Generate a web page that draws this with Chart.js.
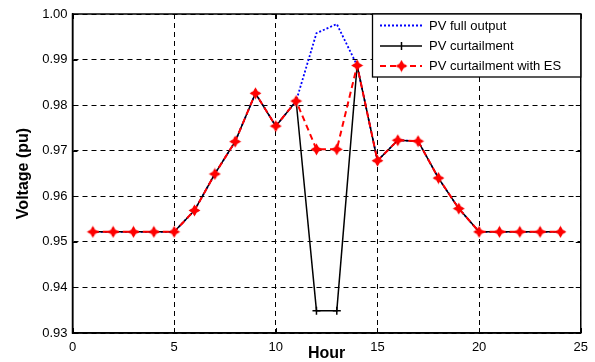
<!DOCTYPE html>
<html>
<head>
<meta charset="utf-8">
<script src="https://cdn.jsdelivr.net/npm/chart.js@4"></script>
<style>
  html, body { margin: 0; padding: 0; background: #fff; }
  #wrap { width: 595px; height: 362px; }
</style>
</head>
<body>
<div id="wrap"><canvas id="voltage" width="595" height="362"></canvas></div>
<script>
// hourly voltage profile (pu)
const hours = [1, 2, 3, 4, 5, 6, 7, 8, 9, 10, 11, 12, 13, 14, 15, 16, 17, 18, 19, 20, 21, 22, 23, 24]
const fullOutput = [0.9522, 0.9522, 0.9522, 0.9522, 0.9522, 0.9569, 0.9649, 0.9720, 0.9826, 0.9754, 0.9809, 0.9958,
    0.9978, 0.9887, 0.9678, 0.9723, 0.9721, 0.9640, 0.9573, 0.9522, 0.9522, 0.9522, 0.9522, 0.9522]
const curtailment = [0.9522, 0.9522, 0.9522, 0.9522, 0.9522, 0.9569, 0.9649, 0.9720, 0.9826, 0.9754, 0.9809, 0.9349,
    0.9349, 0.9887, 0.9678, 0.9723, 0.9721, 0.9640, 0.9573, 0.9522, 0.9522, 0.9522, 0.9522, 0.9522]
const curtailmentES = [0.9522, 0.9522, 0.9522, 0.9522, 0.9522, 0.9569, 0.9649, 0.9720, 0.9826, 0.9754, 0.9809, 0.9703,
    0.9703, 0.9887, 0.9678, 0.9723, 0.9721, 0.9640, 0.9573, 0.9522, 0.9522, 0.9522, 0.9522, 0.9522]
const seriesNames = ['PV full output', 'PV curtailment', 'PV curtailment with ES']
const xTicks = [0, 5, 10, 15, 20, 25]
const yTicks = [0.93, 0.94, 0.95, 0.96, 0.97, 0.98, 0.99, 1.00]

const toPoints = (vals) => hours.map((h, i) => ({ x: h, y: vals[i] }))

// red 4-point star marker
const starMarker = document.createElement('canvas')
starMarker.width = 13
starMarker.height = 13
let m = starMarker.getContext('2d')
m.fillStyle = '#ff0000'
m.beginPath()
const outer = 6, inner = 3.1
for (let k = 0; k < 8; k++) {
    const r = k % 2 === 0 ? outer : inner
    const a = k * Math.PI / 4 - Math.PI / 2
    const px = 6.5 + r * Math.cos(a), py = 6.5 + r * Math.sin(a)
    if (k === 0) m.moveTo(px, py)
    else m.lineTo(px, py)
}
m.closePath()
m.fill()

const font = 'Liberation Sans, Arial, Helvetica, sans-serif'

// matlab style frame, inward ticks and legend box
const matlabFrame = {
    id: 'matlabFrame',
    afterDraw(chart) {
        const c = chart.ctx
        const a = chart.chartArea
        const xs = chart.scales.x, ys = chart.scales.y
        c.save()
        c.strokeStyle = '#000'
        c.lineWidth = 1
        xTicks.forEach(t => {
            const px = Math.round(xs.getPixelForValue(t)) + 0.5
            c.beginPath()
            c.moveTo(px, a.bottom); c.lineTo(px, a.bottom - 5)
            c.moveTo(px, a.top); c.lineTo(px, a.top + 5)
            c.stroke()
        })
        yTicks.forEach(t => {
            const py = Math.round(ys.getPixelForValue(t)) + 0.5
            c.beginPath()
            c.moveTo(a.left, py); c.lineTo(a.left + 5, py)
            c.moveTo(a.right, py); c.lineTo(a.right - 5, py)
            c.stroke()
        })
        c.lineWidth = 1.5
        c.strokeRect(a.left, a.top, a.right - a.left, a.bottom - a.top)

        // legend
        const lx = 372.5, ly = a.top, lw = a.right - lx, lh = 63
        c.fillStyle = '#fff'
        c.fillRect(lx, ly, lw, lh)
        c.lineWidth = 1.3
        c.strokeRect(lx, ly, lw, lh)
        c.font = '13px ' + font
        c.textBaseline = 'middle'
        const rows = [25.5, 46, 66]
        chart.data.datasets.forEach((ds, i) => {
            const yy = rows[i]
            c.save()
            c.strokeStyle = ds.borderColor
            c.lineWidth = ds.borderWidth
            c.setLineDash(ds.borderDash || [])
            c.beginPath()
            c.moveTo(380, yy); c.lineTo(422, yy)
            c.stroke()
            c.restore()
            if (ds.pointStyle === 'cross') {
                c.save()
                c.strokeStyle = ds.borderColor
                c.lineWidth = 1.5
                c.beginPath()
                c.moveTo(401.5, yy - 4); c.lineTo(401.5, yy + 4)
                c.stroke()
                c.restore()
            } else if (ds.pointStyle instanceof HTMLCanvasElement) {
                c.drawImage(ds.pointStyle, 401.5 - 6.5, yy - 6.5)
            }
            c.fillStyle = '#000'
            c.fillText(ds.label, 429, yy + 0.5)
        })
        c.restore()
    }
}

const ctx = document.getElementById('voltage')

const voltageChart = new Chart(ctx, {
type: 'line',
data: {
    datasets: [{
        label: seriesNames[0],
        data: toPoints(fullOutput),
        borderColor: '#0000ff',
        borderWidth: 1.8,
        borderDash: [2, 2],
        pointRadius: 0,
        order: 3
    }, {
        label: seriesNames[1],
        data: toPoints(curtailment),
        borderColor: '#000000',
        backgroundColor: '#000000',
        borderWidth: 1.5,
        pointStyle: 'cross',
        pointRadius: 4,
        pointBorderWidth: 1.5,
        order: 2
    }, {
        label: seriesNames[2],
        data: toPoints(curtailmentES),
        borderColor: '#ff0000',
        backgroundColor: '#ff0000',
        borderWidth: 2,
        borderDash: [6, 4],
        pointStyle: starMarker,
        pointRadius: 6,
        order: 1
    }]
},
options: {
    responsive: false,
    animation: false,
    events: [],
    layout: { padding: { left: 0, right: 14, top: 14, bottom: 0 } },
    plugins: {
        legend: { display: false },
        tooltip: { enabled: false }
    },
    scales: {
        x: {
            type: 'linear',
            min: 0,
            max: 25,
            afterBuildTicks: (s) => { s.ticks = xTicks.map(v => ({ value: v })) },
            afterFit: (s) => { s.height = 29 },
            ticks: {
                color: '#000',
                padding: 7,
                maxRotation: 0,
                font: { family: font, size: 13 }
            },
            grid: { color: '#000', lineWidth: 1, drawTicks: false },
            border: { color: '#000', width: 1.5, dash: [5, 4] },
            title: {
                display: true,
                text: 'Hour',
                color: '#000',
                padding: 0,
                font: { family: font, size: 16, weight: 'bold', lineHeight: 1 }
            }
        },
        y: {
            min: 0.93,
            max: 1.0,
            afterBuildTicks: (s) => { s.ticks = yTicks.map(v => ({ value: v })) },
            afterFit: (s) => { s.width = 72.5 },
            ticks: {
                color: '#000',
                padding: 5,
                font: { family: font, size: 13 },
                callback: (v) => v.toFixed(2)
            },
            grid: { color: '#000', lineWidth: 1, drawTicks: false },
            border: { color: '#000', width: 1.5, dash: [5, 4] },
            title: {
                display: true,
                text: 'Voltage (pu)',
                color: '#000',
                padding: { top: 14, bottom: 0 },
                font: { family: font, size: 16, weight: 'bold' }
            }
        }
    }
},
plugins: [matlabFrame]
});
</script>
</body>
</html>
